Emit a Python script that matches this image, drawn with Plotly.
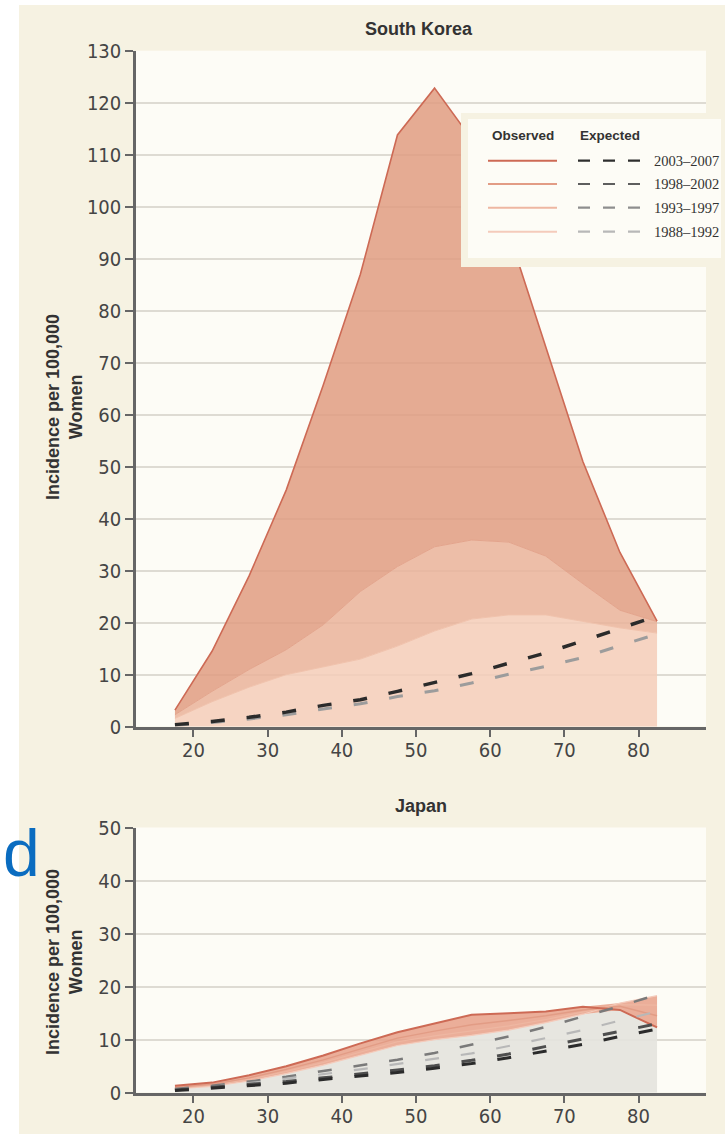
import numpy as np
import plotly.graph_objects as go

W, H = 725, 1134

# ---------------- data ----------------
ages = [17.5, 22.5, 27.5, 32.5, 37.5, 42.5, 47.5, 52.5, 57.5, 62.5, 67.5, 72.5, 77.5, 82.5]
periods = ["2003\u20132007", "1998\u20132002", "1993\u20131997", "1988\u20131992"]

# South Korea observed
kor_obs_2003 = [3.2, 14.5, 29.0, 45.5, 65.7, 87.0, 113.8, 122.8, 113.0, 95.0, 73.0, 51.0, 33.5, 20.3]
kor_obs_1998 = [2.3, 6.8, 11.0, 14.8, 19.6, 26.0, 30.8, 34.6, 35.9, 35.5, 32.8, 27.5, 22.4, 20.2]
kor_obs_1993 = [1.6, 4.8, 7.6, 10.0, 11.5, 13.0, 15.5, 18.4, 20.7, 21.5, 21.5, 20.3, 19.0, 18.0]
# South Korea expected
kor_exp_2003 = [0.4, 1.0, 1.8, 2.8, 4.1, 5.2, 6.8, 8.5, 10.2, 12.2, 14.2, 16.5, 18.9, 21.3]
kor_exp_1998 = [0.3, 0.8, 1.5, 2.3, 3.4, 4.4, 5.8, 6.9, 8.4, 10.1, 11.6, 13.3, 15.6, 17.8]

# Japan observed
jpn_obs_2003 = [1.3, 1.9, 3.3, 5.0, 7.0, 9.3, 11.4, 13.1, 14.7, 15.0, 15.3, 16.2, 15.6, 12.3]
jpn_obs_1998 = [1.0, 1.6, 2.8, 4.4, 6.2, 8.3, 10.3, 11.6, 12.8, 13.6, 14.5, 15.6, 16.3, 14.5]
jpn_obs_1993 = [0.8, 1.4, 2.5, 4.0, 5.7, 7.6, 9.6, 10.7, 11.6, 12.6, 13.8, 15.2, 16.6, 16.5]
jpn_obs_1988 = [0.7, 1.2, 2.2, 3.6, 5.2, 7.0, 8.9, 10.0, 10.8, 11.8, 13.2, 14.8, 16.9, 18.3]
# Japan expected
jpn_exp_2003 = [0.4, 0.9, 1.3, 1.8, 2.5, 3.1, 3.8, 4.6, 5.5, 6.6, 7.8, 9.1, 10.6, 12.0]
jpn_exp_1998 = [0.5, 1.0, 1.5, 2.1, 2.8, 3.5, 4.3, 5.1, 6.1, 7.3, 8.7, 10.1, 11.6, 13.0]
jpn_exp_1993 = [0.6, 1.1, 1.8, 2.6, 3.5, 4.4, 5.4, 6.3, 7.4, 8.8, 10.3, 11.8, 13.6, 15.3]
jpn_exp_1988 = [0.7, 1.3, 2.1, 3.0, 4.1, 5.1, 6.2, 7.5, 9.0, 10.6, 12.4, 14.3, 16.3, 18.5]

x_ticks = [20, 30, 40, 50, 60, 70, 80]
kor_y_ticks = list(range(0, 131, 10))
jpn_y_ticks = list(range(0, 51, 10))

# ---------------- styling ----------------
FONT_NARROW = "Liberation Sans Narrow, DejaVu Sans Condensed, Arial Narrow, sans-serif"
FONT_SANS = "Liberation Sans, Arial, sans-serif"
FONT_SERIF = "Liberation Serif, Times New Roman, serif"
PANEL = "#f6f2e2"
PLOTBG = "#fdfcf6"
AXCOL = "#666666"

obs_line_cols = ["#cd6a55", "#e29c85", "#eeb7a2", "#f4cbbb"]
exp_line_cols = ["#2e2e2e", "#5e5e5e", "#8e8e8e", "#b8b8b8"]


def px(x):
    return x / W


def py(y):
    return 1 - y / H


fig = go.Figure()

# ---- South Korea (x, y) ----
fig.add_trace(go.Scatter(x=ages, y=kor_obs_1993, mode="lines", fill="tozeroy",
                         fillcolor="rgba(245,204,184,0.85)",
                         line=dict(color="#f0c2ac", width=1), xaxis="x", yaxis="y"))
fig.add_trace(go.Scatter(x=ages, y=kor_obs_1998, mode="lines", fill="tonexty",
                         fillcolor="rgba(234,179,154,0.85)",
                         line=dict(color="#e3a48c", width=1), xaxis="x", yaxis="y"))
fig.add_trace(go.Scatter(x=ages, y=kor_obs_2003, mode="lines", fill="tonexty",
                         fillcolor="rgba(225,156,129,0.85)",
                         line=dict(color=obs_line_cols[0], width=1.6), xaxis="x", yaxis="y"))
fig.add_trace(go.Scatter(x=ages, y=kor_exp_1998, mode="lines",
                         line=dict(color="#9c9c9c", width=3, dash="14px,22px"),
                         xaxis="x", yaxis="y"))
fig.add_trace(go.Scatter(x=ages, y=kor_exp_2003, mode="lines",
                         line=dict(color="#2b2b2b", width=3.5, dash="14px,22px"),
                         xaxis="x", yaxis="y"))

# ---- Japan (x2, y2) ----
jpn_obs = np.array([jpn_obs_2003, jpn_obs_1998, jpn_obs_1993, jpn_obs_1988])
jpn_low = jpn_obs.min(axis=0)
jpn_high = jpn_obs.max(axis=0)

fig.add_trace(go.Scatter(x=ages, y=jpn_low, mode="lines", fill="tozeroy",
                         fillcolor="rgba(228,227,222,0.9)", line=dict(width=0),
                         xaxis="x2", yaxis="y2"))
fig.add_trace(go.Scatter(x=ages, y=jpn_high, mode="lines", fill="tonexty",
                         fillcolor="rgba(232,160,136,0.85)", line=dict(width=0),
                         xaxis="x2", yaxis="y2"))
for yv, col, wd in [(jpn_obs_1988, obs_line_cols[3], 1.2),
                    (jpn_obs_1993, obs_line_cols[2], 1.2),
                    (jpn_obs_1998, obs_line_cols[1], 1.4),
                    (jpn_obs_2003, obs_line_cols[0], 2.0)]:
    fig.add_trace(go.Scatter(x=ages, y=yv, mode="lines", line=dict(color=col, width=wd),
                             xaxis="x2", yaxis="y2"))
for yv, col, wd in [(jpn_exp_1988, "#7a7a7a", 2.5),
                    (jpn_exp_1993, "#b8b8b8", 2.2),
                    (jpn_exp_1998, "#4e4e4e", 3),
                    (jpn_exp_2003, "#2b2b2b", 3)]:
    fig.add_trace(go.Scatter(x=ages, y=yv, mode="lines",
                             line=dict(color=col, width=wd, dash="14px,22px"),
                             xaxis="x2", yaxis="y2"))

# ---------------- axes ----------------
xdom = [px(136), px(706)]
xrange_ = [12.25, 89.1]
tickfont = dict(family=FONT_NARROW, size=20, color="#454545")

xcommon = dict(range=xrange_, domain=xdom, tickvals=x_ticks, showgrid=False,
               zeroline=False, showline=True, linecolor=AXCOL, linewidth=2.5,
               ticks="outside", ticklen=8, tickwidth=2, tickcolor=AXCOL,
               tickfont=tickfont, fixedrange=True, automargin=False,
               ticklabelstandoff=-4)
ycommon = dict(showgrid=True, gridcolor="#dedbd3", gridwidth=1.5, zeroline=False,
               showline=True, linecolor=AXCOL, linewidth=2.5, ticks="outside",
               ticklen=8, tickwidth=2, tickcolor=AXCOL, tickfont=tickfont,
               fixedrange=True, automargin=False)

fig.update_layout(
    xaxis=dict(**xcommon, anchor="y"),
    yaxis=dict(**ycommon, range=[0, 130], tickvals=kor_y_ticks, anchor="x",
               domain=[py(726.7), py(50.7)]),
    xaxis2=dict(**xcommon, anchor="y2"),
    yaxis2=dict(**ycommon, range=[0, 50], tickvals=jpn_y_ticks, anchor="x2",
                domain=[py(1092.7), py(827.5)]),
)

# ---------------- shapes (background strips, legend box) ----------------
shapes = [
    dict(type="rect", xref="paper", yref="paper", x0=0, x1=px(19), y0=0, y1=1,
         fillcolor="white", line=dict(width=0), layer="below"),
    dict(type="rect", xref="paper", yref="paper", x0=0, x1=1, y0=py(5), y1=1,
         fillcolor="white", line=dict(width=0), layer="below"),
    # legend frame
    dict(type="rect", xref="paper", yref="paper", x0=px(461), x1=px(725),
         y0=py(267), y1=py(113), fillcolor=PANEL, line=dict(width=0), layer="above"),
    dict(type="rect", xref="paper", yref="paper", x0=px(468), x1=px(721),
         y0=py(258), y1=py(119), fillcolor=PLOTBG, line=dict(width=0), layer="above"),
]
row_y = [160.7, 184, 207.7, 231.7]
for i, ry in enumerate(row_y):
    shapes.append(dict(type="line", xref="paper", yref="paper", x0=px(488), x1=px(557),
                       y0=py(ry), y1=py(ry), line=dict(color=obs_line_cols[i], width=2),
                       layer="above"))
    shapes.append(dict(type="line", xref="paper", yref="paper", x0=px(578), x1=px(640),
                       y0=py(ry), y1=py(ry),
                       line=dict(color=exp_line_cols[i], width=2.2, dash="12px,13px"),
                       layer="above"))


def ann(text, x, y, size, family=FONT_SANS, color="#333", xanchor="center", **kw):
    return dict(text=text, x=px(x), y=py(y), xref="paper", yref="paper",
                xanchor=xanchor, yanchor="middle", showarrow=False,
                font=dict(family=family, size=size, color=color), **kw)


annotations = [
    ann("<b>South Korea</b>", 419, 29, 18),
    ann("<b>Japan</b>", 421, 806, 18),
    ann("<b>Incidence per 100,000<br>Women</b>", 64, 407, 18, textangle=-90),
    ann("<b>Incidence per 100,000<br>Women</b>", 64, 962, 18, textangle=-90),
    ann("d", 21, 853, 66, color="#0a6cc0"),
    ann("<b>Observed</b>", 522.5, 135, 13.5),
    ann("<b>Expected</b>", 610, 135, 13.5),
]
for i, ry in enumerate(row_y):
    annotations.append(ann(periods[i], 652, ry, 14.5, family=FONT_SERIF, xanchor="left"))

fig.update_layout(
    width=W, height=H, autosize=False,
    margin=dict(l=0, r=0, t=0, b=0, pad=0, autoexpand=False),
    paper_bgcolor=PANEL, plot_bgcolor=PLOTBG,
    showlegend=False, shapes=shapes, annotations=annotations,
)

fig.write_html(
    "out.html",
    config=dict(displayModeBar=False),
    post_script="document.body.style.margin='0';document.body.style.overflow='hidden';",
)
